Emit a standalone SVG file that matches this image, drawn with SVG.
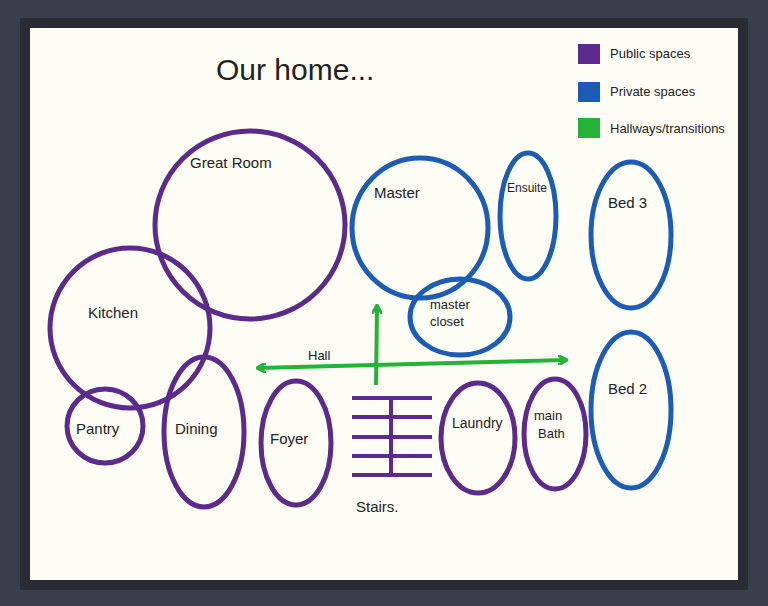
<svg xmlns="http://www.w3.org/2000/svg" width="768" height="606" viewBox="0 0 768 606">
<style>
.p{fill:none;stroke:#5b2a8c;stroke-width:5}
.b{fill:none;stroke:#1c5cb4;stroke-width:5}
.g{fill:none;stroke:#26b238;stroke-width:4}
.s{fill:none;stroke:#5b2a8c;stroke-width:4}
text{font-family:"Liberation Sans",sans-serif;fill:#222;font-size:15px}
</style>
<defs><marker id="ah" markerWidth="10" markerHeight="10" refX="8" refY="5" orient="auto-start-reverse" markerUnits="userSpaceOnUse"><path d="M0,0 L9,5 L0,10" fill="none" stroke="#26b238" stroke-width="3"/></marker></defs>
<rect width="768" height="606" fill="#3a3e4c"/>
<rect x="20" y="18" width="728" height="572" fill="#2a2c34"/>
<rect x="30" y="28" width="708" height="552" fill="#fdfdf6"/>
<text x="216" y="80" style="font-size:30px">Our home...</text>
<g id="legend">
<rect x="578" y="44" width="22" height="20" fill="#5b2a8c"/><text x="610" y="58" style="font-size:13px">Public spaces</text>
<rect x="578" y="82" width="22" height="20" fill="#1c5cb4"/><text x="610" y="96" style="font-size:13px">Private spaces</text>
<rect x="578" y="118" width="22" height="20" fill="#26b238"/><text x="610" y="133" style="font-size:13px">Hallways/transitions</text>
</g>
<g id="great-room"><ellipse class="p" cx="250" cy="225" rx="95" ry="94"/><text x="190" y="168">Great Room</text></g>
<g id="kitchen"><ellipse class="p" cx="130" cy="328" rx="80" ry="80"/><text x="88" y="318">Kitchen</text></g>
<g id="pantry"><ellipse class="p" cx="105" cy="426" rx="38" ry="37"/><text x="76" y="434">Pantry</text></g>
<g id="dining"><ellipse class="p" cx="204" cy="432" rx="40" ry="75"/><text x="175" y="434">Dining</text></g>
<g id="foyer"><ellipse class="p" cx="296" cy="443" rx="35" ry="62"/><text x="270" y="444">Foyer</text></g>
<g id="master"><ellipse class="b" cx="420" cy="228" rx="68" ry="70"/><text x="374" y="198">Master</text></g>
<g id="ensuite"><ellipse class="b" cx="528" cy="216" rx="28" ry="63"/><text x="507" y="192" style="font-size:12px">Ensuite</text></g>
<g id="bed3"><ellipse class="b" cx="631" cy="235" rx="40" ry="73"/><text x="608" y="208">Bed 3</text></g>
<g id="master-closet"><ellipse class="b" cx="460" cy="317" rx="50" ry="38"/><text x="430" y="309" style="font-size:13px">master</text><text x="430" y="326" style="font-size:13px">closet</text></g>
<g id="bed2"><ellipse class="b" cx="631" cy="410" rx="40" ry="78"/><text x="608" y="394">Bed 2</text></g>
<g id="laundry"><ellipse class="p" cx="478" cy="438" rx="37" ry="55"/><text x="452" y="428" style="font-size:14px">Laundry</text></g>
<g id="main-bath"><ellipse class="p" cx="555" cy="434" rx="31" ry="55"/><text x="534" y="420" style="font-size:13px">main</text><text x="538" y="438" style="font-size:13px">Bath</text></g>
<g id="stairs"><path class="s" d="M391,398V476M352,398H432M352,417H432M352,437H432M352,456H432M352,475H432"/><text x="356" y="512">Stairs.</text></g>
<g id="connectors">
<path class="g" d="M258,368 L566,360" marker-end="url(#ah)" marker-start="url(#ah)"/>
<path class="g" d="M376,385 L377,306" marker-end="url(#ah)"/>
<text x="308" y="360" style="font-size:13px">Hall</text>
</g>
</svg>
